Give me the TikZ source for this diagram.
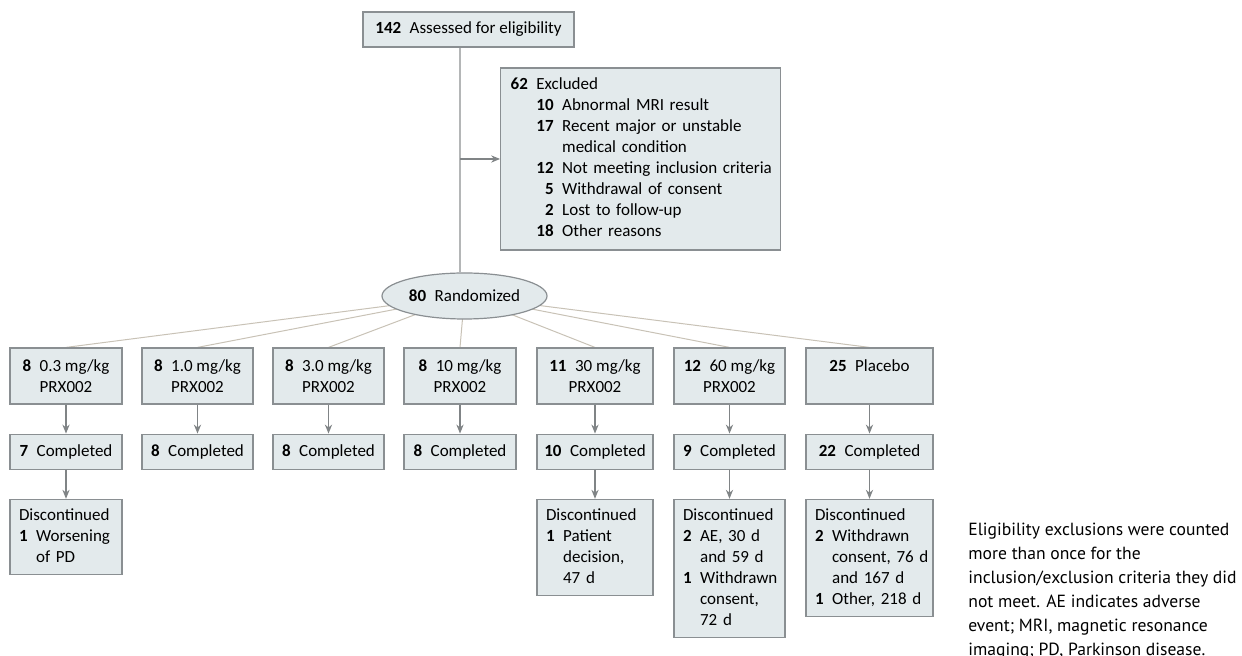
\documentclass[tikz,border=0pt]{standalone}
\usepackage{fontspec}
\setmainfont{Carlito}
\newfontfamily\notefont{PT Sans}
\usepackage{tikz}
\usetikzlibrary{arrows.meta,shapes,positioning,backgrounds}
\definecolor{boxfill}{HTML}{E3EAEC}
\definecolor{boxline}{HTML}{8A8F92}
\definecolor{arrowgray}{HTML}{808486}
\definecolor{splitline}{HTML}{C8C2B6}
\definecolor{spinegray}{HTML}{B4B6B7}
\newcommand{\boxfont}{\fontsize{8.5}{10.5}\selectfont}
\tikzstyle{box}    =[draw=boxline, fill=boxfill, line width=0.6pt,
                     inner sep=0pt, font=\boxfont]
\tikzstyle{armbox} =[box, minimum height=28pt, align=center]
\tikzstyle{donebox}=[box, minimum height=17.5pt]
\tikzstyle{stopbox}=[box, inner xsep=4.5pt, inner ysep=3pt, align=left]
\tikzstyle{flow}   =[draw=arrowgray, line width=0.6pt,
                     -{Stealth[length=4.5pt,width=3.6pt]}]
\tikzstyle{split}  =[draw=splitline, line width=0.5pt]
\tikzstyle{spine}  =[draw=spinegray, line width=0.6pt]

\begin{document}
\begin{tikzpicture}[x=0.5pt, y=-0.5pt, node distance=14.5pt]
  \useasboundingbox (0,0) rectangle (1242,656);
  % screening
  \node (assess) [box, minimum width=105.5pt, minimum height=17.5pt]
    at (468.5,29.5) {\textbf{142}\enspace Assessed for eligibility};
  \node (excl) [box, inner xsep=5pt, inner ysep=3.5pt, text width=130pt,
    align=left] at (640.7,159) {%
    \begin{tabular}{@{}r@{\enspace}r@{\enspace}l@{}}
      \textbf{62} & \multicolumn{2}{@{}l@{}}{Excluded}\\
      & \textbf{10} & Abnormal MRI result\\
      & \textbf{17} & Recent major or unstable\\
      &             & medical condition\\
      & \textbf{12} & Not meeting inclusion criteria\\
      & \textbf{5}  & Withdrawal of consent\\
      & \textbf{2}  & Lost to follow-up\\
      & \textbf{18} & Other reasons
    \end{tabular}};
  \node (rand) [box, ellipse, minimum width=82.5pt, minimum height=23pt]
    at (464.5,296) {\textbf{80}\enspace Randomized};
  \coordinate (axis) at (460,0);
  \draw[spine] (assess.south -| axis) -- (axis |- rand.north);
  \draw[flow] (excl.west -| axis) -- (excl.west);

  % arms
  \node (arm1) [armbox, minimum width=56pt] at (66,376)
    {\textbf{8}\enspace 0.3 mg/kg\\PRX002};
  \node (arm2) [armbox, minimum width=55.5pt] at (197.5,376)
    {\textbf{8}\enspace 1.0 mg/kg\\PRX002};
  \node (arm3) [armbox, minimum width=55.5pt] at (328.5,376)
    {\textbf{8}\enspace 3.0 mg/kg\\PRX002};
  \node (arm4) [armbox, minimum width=56pt] at (460,376)
    {\textbf{8}\enspace 10 mg/kg\\PRX002};
  \node (arm5) [armbox, minimum width=58pt] at (595,376)
    {\textbf{11}\enspace 30 mg/kg\\PRX002};
  \node (arm6) [armbox, minimum width=55.5pt] at (729.5,376)
    {\textbf{12}\enspace 60 mg/kg\\PRX002};
  \node (arm7) [armbox, minimum width=63.5pt] at (869.5,376)
    {\textbf{25}\enspace Placebo\\\mbox{}};

  \begin{scope}[on background layer]
    \draw[split] (rand.center) -- (arm1.north);
    \draw[split] (rand.center) -- (arm2.north);
    \draw[split] (rand.center) -- (arm3.north);
    \draw[split] (rand.center) -- (arm4.north);
    \draw[split] (rand.center) -- (arm5.north);
    \draw[split] (rand.center) -- (arm6.north);
    \draw[split] (rand.center) -- (arm7.north);
  \end{scope}

  % completed
  \node (done1) [donebox, minimum width=56pt, below=of arm1]
    {\textbf{7}\enspace Completed};
  \node (done2) [donebox, minimum width=55.5pt, below=of arm2]
    {\textbf{8}\enspace Completed};
  \node (done3) [donebox, minimum width=55.5pt, below=of arm3]
    {\textbf{8}\enspace Completed};
  \node (done4) [donebox, minimum width=56pt, below=of arm4]
    {\textbf{8}\enspace Completed};
  \node (done5) [donebox, minimum width=58pt, below=of arm5]
    {\textbf{10}\enspace Completed};
  \node (done6) [donebox, minimum width=55.5pt, below=of arm6]
    {\textbf{9}\enspace Completed};
  \node (done7) [donebox, minimum width=63.5pt, below=of arm7]
    {\textbf{22}\enspace Completed};
  \draw[flow] (arm1) -- (done1);
  \draw[flow] (arm2) -- (done2);
  \draw[flow] (arm3) -- (done3);
  \draw[flow] (arm4) -- (done4);
  \draw[flow] (arm5) -- (done5);
  \draw[flow] (arm6) -- (done6);
  \draw[flow] (arm7) -- (done7);

  % discontinued
  \node (stop1) [stopbox, text width=47pt, below=of done1] {%
    \begin{tabular}{@{}r@{\enspace}l@{}}
      \multicolumn{2}{@{}l@{}}{Discontinued}\\
      \textbf{1} & Worsening\\
                 & of PD
    \end{tabular}};
  \node (stop5) [stopbox, text width=49pt, below=of done5] {%
    \begin{tabular}{@{}r@{\enspace}l@{}}
      \multicolumn{2}{@{}l@{}}{Discontinued}\\
      \textbf{1} & Patient\\
                 & decision,\\
                 & 47 d
    \end{tabular}};
  \node (stop6) [stopbox, text width=46.5pt, below=of done6] {%
    \begin{tabular}{@{}r@{\enspace}l@{}}
      \multicolumn{2}{@{}l@{}}{Discontinued}\\
      \textbf{2} & AE, 30 d\\
                 & and 59 d\\
      \textbf{1} & Withdrawn\\
                 & consent,\\
                 & 72 d
    \end{tabular}};
  \node (stop7) [stopbox, text width=54.5pt, below=of done7] {%
    \begin{tabular}{@{}r@{\enspace}l@{}}
      \multicolumn{2}{@{}l@{}}{Discontinued}\\
      \textbf{2} & Withdrawn\\
                 & consent, 76 d\\
                 & and 167 d\\
      \textbf{1} & Other, 218 d
    \end{tabular}};
  \draw[flow] (done1) -- (stop1);
  \draw[flow] (done5) -- (stop5);
  \draw[flow] (done6) -- (stop6);
  \draw[flow] (done7) -- (stop7);

  % footnote
  \begin{scope}
    \clip (0,0) rectangle (1242,656);
    \node (note) [anchor=north west, inner sep=0pt, align=left,
      font=\notefont\fontsize{8.8}{12}\selectfont] at (968,523)
      {Eligibility exclusions were counted\\more than once for the\\
       inclusion/exclusion criteria they did\\not meet. AE indicates adverse\\
       event; MRI, magnetic resonance\\imaging; PD, Parkinson disease.};
  \end{scope}
\end{tikzpicture}
\end{document}
